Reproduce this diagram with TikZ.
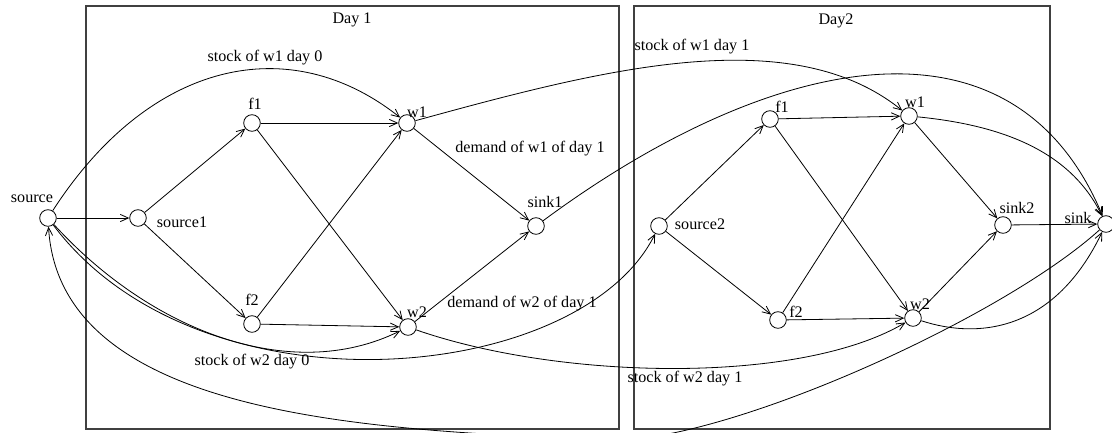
\documentclass[tikz,border=0pt]{standalone}
\usepackage{fontspec}
\setmainfont{Liberation Serif}
\usetikzlibrary{arrows.meta}

\begin{document}
\begin{tikzpicture}[x=0.62pt,y=-0.62pt,line width=0.5pt,
    state/.style={draw,circle,minimum size=10.3pt,inner sep=0pt},
    tag/.style={inner sep=0pt,font=\fontsize{10}{12}\selectfont},
    flow/.style={-{Straight Barb[length=5pt,width=4.5pt]}},
    dayframe/.style={draw=black!75,line width=0.7pt}]

\useasboundingbox (0,0) rectangle (1112,432);
\clip (0,0) rectangle (1112,432);

% Draw the two day frames.
\draw[dayframe] (86,6) rectangle (619,429);
\draw[dayframe] (634,6) rectangle (1050,429);
\node[tag] (day1) at (352,20) {Day 1};
\node[tag] (day2) at (836,21) {Day2};

% Place the states of both days.
\foreach \n/\x/\y in {source/48/218,source1/138/218,f1/252/123,f2/252/324,
    w1/407/123,w2/408/327,sink1/536/226,
    source2/659/226,f1b/770/119,f2b/778/320,w1b/909/116,w2b/913/318,
    sink2/1003/225,sink/1106/224} {
    \node[state] (\n) at (\x,\y) {};
}

% Names of the states.
\foreach \n/\x/\y/\t in {source/32/199/source,source1/182/222/source1,
    f1/255/104/f1,f2/252/300/f2,w1/417/112/w1,w2/417/312/w2,
    sink1/545/202/sink1,source2/700/224/source2,f1b/782/107/f1,
    f2b/796/312/f2,w1b/915/102/w1,w2b/920/304/w2,
    sink2/1017/208/sink2,sink/1078/218/sink} {
    \node[tag] (\n-tag) at (\x,\y) {\t};
}

% Straight arcs inside each day.
\foreach \a/\b in {source/source1,source1/f1,source1/f2,f1/w1,f1/w2,
    f2/w1,f2/w2,w1/sink1,w2/sink1,
    source2/f1b,source2/f2b,f1b/w1b,f1b/w2b,f2b/w1b,f2b/w2b,
    w1b/sink2,w2b/sink2,sink2/sink} {
    \draw[flow] (\a) -- (\b);
}

% Stock arcs from the source.
\draw[flow]
    (source) .. controls (150,60) and (290,30) .. (w1);
\draw[flow]
    (source) .. controls (150,330) and (290,385) .. (w2);
\draw[flow]
    (source) .. controls (200,420) and (580,385) .. (source2);

% Stock arcs from day 1 to day 2.
\draw[flow]
    (w1) .. controls (600,70) and (790,20) .. (w1b);
\draw[flow]
    (w2) .. controls (560,380) and (800,385) .. (w2b);

% Arcs into the final sink.
\draw[flow]
    (sink1) .. controls (760,60) and (1010,-5) .. (sink);
\draw[flow]
    (w1b) .. controls (1000,125) and (1070,150) .. (sink);
\draw[flow]
    (w2b) .. controls (980,340) and (1055,330) .. (sink);

% Return arc from sink back to source, under both days.
\coordinate (loop) at (607,440);
\draw[flow]
    (sink) .. controls (1000,320) and (720,445) .. (loop)
    .. controls (380,430) and (60,420) .. (source);

% Texts on the arcs.
\node[tag] (stockw1d0) at (265,58) {stock of w1 day 0};
\node[tag] (stockw2d0) at (252,362) {stock of w2 day 0};
\node[tag] (demandw1) at (530,149) {demand of w1 of day 1};
\node[tag] (demandw2) at (522,304) {demand of w2 of day 1};
\node[tag] (stockw1d1) at (692,47) {stock of w1 day 1};
\node[tag] (stockw2d1) at (685,379) {stock of w2 day 1};

\end{tikzpicture}
\end{document}
